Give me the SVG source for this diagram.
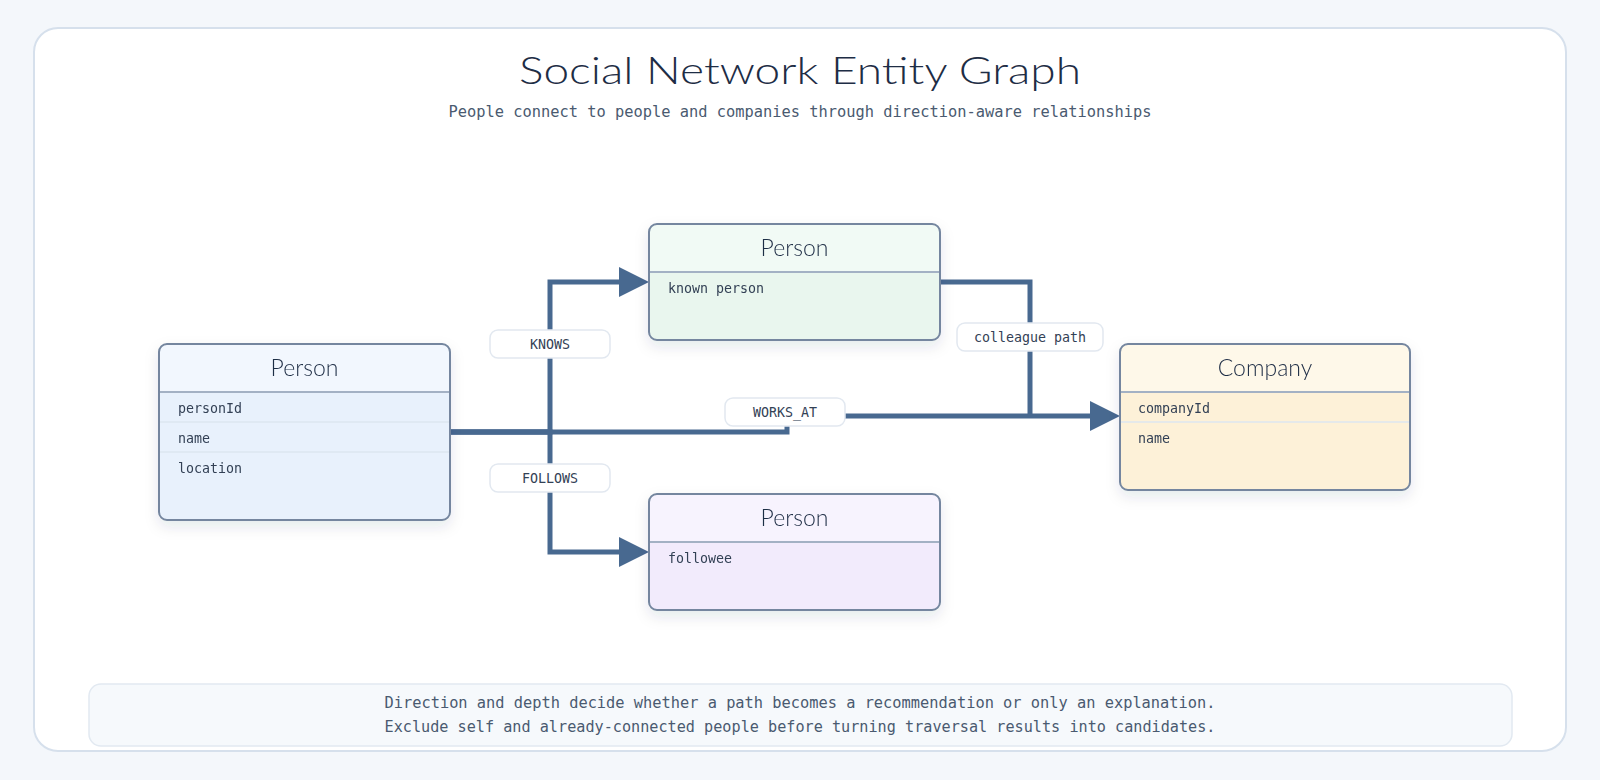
<svg xmlns="http://www.w3.org/2000/svg" width="1600" height="780" viewBox="0 0 1600 780">
  <defs>
    <filter id="shadow" x="-20%" y="-20%" width="140%" height="150%">
      <feDropShadow dx="0" dy="6" stdDeviation="7" flood-color="#1e2d45" flood-opacity="0.10"/>
    </filter>
    <marker id="arrow" markerUnits="userSpaceOnUse" markerWidth="30" markerHeight="30" refX="20" refY="15" orient="auto">
      <path d="M0,0 L30,15 L0,30 Z" fill="#486990"/>
    </marker>
    <style>
      .title { font-family: "Lato", "Open Sans", sans-serif; font-weight: 300; font-size: 38px; fill: #1e2d45; }
      .subtitle { font-family: "DejaVu Sans Mono", "Liberation Mono", monospace; font-size: 15px; fill: #4a5a70; }
      .node-frame { stroke: #74869f; stroke-width: 2; }
      .hdr-line { stroke: #a3b1c4; stroke-width: 2; }
      .row-line { stroke: #dde6f0; stroke-width: 1.5; }
      .node-title { font-family: "Lato", "Open Sans", sans-serif; font-weight: 300; font-size: 23px; fill: #1e2d45; text-anchor: middle; }
      .row { font-family: "DejaVu Sans Mono", "Liberation Mono", monospace; font-size: 13.3px; fill: #334155; }
      .edge { fill: none; stroke: #486990; stroke-width: 5; stroke-linejoin: miter; }
      .lbl-box { fill: #ffffff; stroke: #e2e8f0; stroke-width: 1.5; }
      .lbl { font-family: "DejaVu Sans Mono", "Liberation Mono", monospace; font-size: 13.3px; fill: #334155; text-anchor: middle; }
      .foot { font-family: "DejaVu Sans Mono", "Liberation Mono", monospace; font-size: 15px; fill: #4a5a70; text-anchor: middle; }
    </style>
  </defs>

  <rect x="0" y="0" width="1600" height="780" fill="#f4f7fb"/>
  <rect x="34" y="28" width="1532" height="723" rx="24" fill="#ffffff" stroke="#d6e0ec" stroke-width="2"/>

  <text class="title" x="800" y="84" text-anchor="middle" textLength="562" lengthAdjust="spacingAndGlyphs">Social Network Entity Graph</text>
  <text class="subtitle" x="800" y="117" text-anchor="middle" textLength="703" lengthAdjust="spacingAndGlyphs">People connect to people and companies through direction-aware relationships</text>

  <g id="connectors">
    <path class="edge" d="M450,432 H550 V282 H639" marker-end="url(#arrow)"/>
    <path class="edge" d="M450,432 H550 V552 H639" marker-end="url(#arrow)"/>
    <path class="edge" d="M450,432 H787 V416 H1110" marker-end="url(#arrow)"/>
    <path class="edge" d="M940,282 H1030 V416"/>
  </g>

  <g id="edge-labels">
    <g id="label-knows">
      <rect class="lbl-box" x="490" y="330" width="120" height="28" rx="8"/>
      <text class="lbl" x="550" y="349">KNOWS</text>
    </g>
    <g id="label-follows">
      <rect class="lbl-box" x="490" y="464" width="120" height="28" rx="8"/>
      <text class="lbl" x="550" y="483">FOLLOWS</text>
    </g>
    <g id="label-works-at">
      <rect class="lbl-box" x="725" y="398" width="120" height="28" rx="8"/>
      <text class="lbl" x="785" y="417">WORKS_AT</text>
    </g>
    <g id="label-colleague">
      <rect class="lbl-box" x="957" y="323" width="146" height="28" rx="8"/>
      <text class="lbl" x="1030" y="342">colleague path</text>
    </g>
  </g>

  <g id="node-person-main" filter="url(#shadow)">
    <rect x="159" y="344" width="291" height="176" rx="8" fill="#e8f1fc"/>
    <path d="M159,392 V352 a8,8 0 0 1 8,-8 H442 a8,8 0 0 1 8,8 V392 Z" fill="#f2f7fe"/>
    <line class="hdr-line" x1="160" y1="392" x2="449" y2="392"/>
    <line class="row-line" x1="160" y1="422" x2="449" y2="422"/>
    <line class="row-line" x1="160" y1="452" x2="449" y2="452"/>
    <rect class="node-frame" x="159" y="344" width="291" height="176" rx="8" fill="none"/>
    <text class="node-title" x="304.5" y="376">Person</text>
    <text class="row" x="178" y="413">personId</text>
    <text class="row" x="178" y="443">name</text>
    <text class="row" x="178" y="473">location</text>
  </g>

  <g id="node-person-known" filter="url(#shadow)">
    <rect x="649" y="224" width="291" height="116" rx="8" fill="#e9f6ee"/>
    <path d="M649,272 V232 a8,8 0 0 1 8,-8 H932 a8,8 0 0 1 8,8 V272 Z" fill="#f1faf5"/>
    <line class="hdr-line" x1="650" y1="272" x2="939" y2="272"/>
    <rect class="node-frame" x="649" y="224" width="291" height="116" rx="8" fill="none"/>
    <text class="node-title" x="794.5" y="256">Person</text>
    <text class="row" x="668" y="293">known person</text>
  </g>

  <g id="node-person-followee" filter="url(#shadow)">
    <rect x="649" y="494" width="291" height="116" rx="8" fill="#f2ebfc"/>
    <path d="M649,542 V502 a8,8 0 0 1 8,-8 H932 a8,8 0 0 1 8,8 V542 Z" fill="#f7f3fe"/>
    <line class="hdr-line" x1="650" y1="542" x2="939" y2="542"/>
    <rect class="node-frame" x="649" y="494" width="291" height="116" rx="8" fill="none"/>
    <text class="node-title" x="794.5" y="526">Person</text>
    <text class="row" x="668" y="563">followee</text>
  </g>

  <g id="node-company" filter="url(#shadow)">
    <rect x="1120" y="344" width="290" height="146" rx="8" fill="#fdf1d8"/>
    <path d="M1120,392 V352 a8,8 0 0 1 8,-8 H1402 a8,8 0 0 1 8,8 V392 Z" fill="#fef8e9"/>
    <line class="hdr-line" x1="1121" y1="392" x2="1409" y2="392"/>
    <line class="row-line" x1="1121" y1="422" x2="1409" y2="422"/>
    <rect class="node-frame" x="1120" y="344" width="290" height="146" rx="8" fill="none"/>
    <text class="node-title" x="1265" y="376">Company</text>
    <text class="row" x="1138" y="413">companyId</text>
    <text class="row" x="1138" y="443">name</text>
  </g>

  <g id="footer">
    <rect x="89" y="684" width="1423" height="62" rx="12" fill="#f6f9fc" stroke="#e2e9f1" stroke-width="1.5"/>
    <text class="foot" x="800" y="708" textLength="831" lengthAdjust="spacingAndGlyphs">Direction and depth decide whether a path becomes a recommendation or only an explanation.</text>
    <text class="foot" x="800" y="732" textLength="831" lengthAdjust="spacingAndGlyphs">Exclude self and already-connected people before turning traversal results into candidates.</text>
  </g>
</svg>
